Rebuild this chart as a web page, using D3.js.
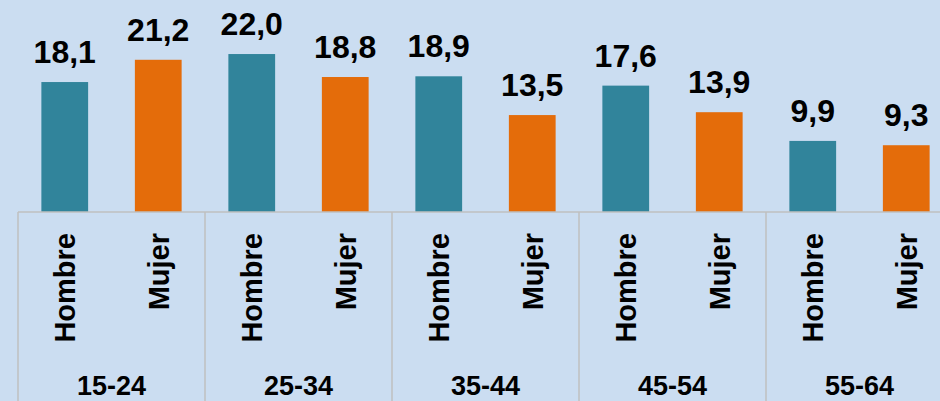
<!DOCTYPE html>
<html>
<head>
<meta charset="utf-8">
<script src="https://cdn.jsdelivr.net/npm/d3@7/dist/d3.min.js"></script>
<style>
  html, body { margin: 0; padding: 0; background: #cbddf1; }
  svg { display: block; }
  text { font-family: "Liberation Sans", Arial, sans-serif; font-weight: bold; fill: #000; }
</style>
</head>
<body>
<svg id="chart" width="940" height="401"></svg>
<script>
// data
const groups = ['15-24', '25-34', '35-44', '45-54', '55-64'];
const sexes = ['Hombre', 'Mujer'];
const hombre = [18.1, 22.0, 18.9, 17.6, 9.9];
const mujer = [21.2, 18.8, 13.5, 13.9, 9.3];

const colors = { Hombre: '#31849b', Mujer: '#e46c0a' };

const svg = d3.select('#chart');
const W = 940, H = 401;

svg.append('rect')
    .attr('width', W).attr('height', H)
    .attr('fill', '#cbddf1');

// plot area (last group runs past the right edge, as in the original)
const left = 18, groupW = 187, baseY = 212;

const rows = [];
groups.forEach((g, i) => {
    rows.push({ group: g, sex: 'Hombre', value: hombre[i] });
    rows.push({ group: g, sex: 'Mujer', value: mujer[i] });
});

const x0 = d3.scaleBand()
    .domain(groups)
    .range([left, left + groupW * groups.length])
    .padding(0);

const x1 = d3.scaleBand()
    .domain(sexes)
    .range([0, x0.bandwidth()])
    .paddingInner(0.5)
    .paddingOuter(0.25);

const y = d3.scaleLinear()
    .domain([0, 25])
    .range([baseY, baseY - 25 * 7.18]);

// bars
const g = svg.append('g');
g.selectAll('.bar')
    .data(rows)
    .join('rect')
    .attr('class', 'bar')
    .attr('x', d => x0(d.group) + x1(d.sex))
    .attr('y', d => y(d.value))
    .attr('width', x1.bandwidth())
    .attr('height', d => y(0) - y(d.value))
    .attr('fill', d => colors[d.sex]);

// value labels
const fmt = v => d3.format('.1f')(v).replace('.', ',');
g.selectAll('.val')
    .data(rows)
    .join('text')
    .attr('class', 'val')
    .attr('x', d => x0(d.group) + x1(d.sex) + x1.bandwidth() / 2)
    .attr('y', d => y(d.value) - 19)
    .attr('text-anchor', 'middle')
    .style('font-size', '32px')
    .text(d => fmt(d.value));

// category axis: baseline and group separators
const axis = svg.append('g')
    .attr('stroke', '#bfbfbf')
    .attr('stroke-width', 1.5);

axis.append('line')
    .attr('x1', left).attr('x2', W)
    .attr('y1', baseY).attr('y2', baseY);

axis.selectAll('.sep')
    .data(groups)
    .join('line')
    .attr('class', 'sep')
    .attr('x1', d => x0(d)).attr('x2', d => x0(d))
    .attr('y1', baseY).attr('y2', H);

// rotated sex labels
svg.selectAll('.sex')
    .data(rows)
    .join('text')
    .attr('class', 'sex')
    .attr('transform', d => `translate(${x0(d.group) + x1(d.sex) + x1.bandwidth() / 2},233) rotate(-90)`)
    .attr('dy', '0.36em')
    .attr('text-anchor', 'end')
    .style('font-size', '29px')
    .text(d => d.sex);

// group labels
svg.selectAll('.grp')
    .data(groups)
    .join('text')
    .attr('class', 'grp')
    .attr('x', d => x0(d) + x0.bandwidth() / 2)
    .attr('y', 395)
    .attr('text-anchor', 'middle')
    .style('font-size', '27px')
    .text(d => d);
</script>
</body>
</html>
